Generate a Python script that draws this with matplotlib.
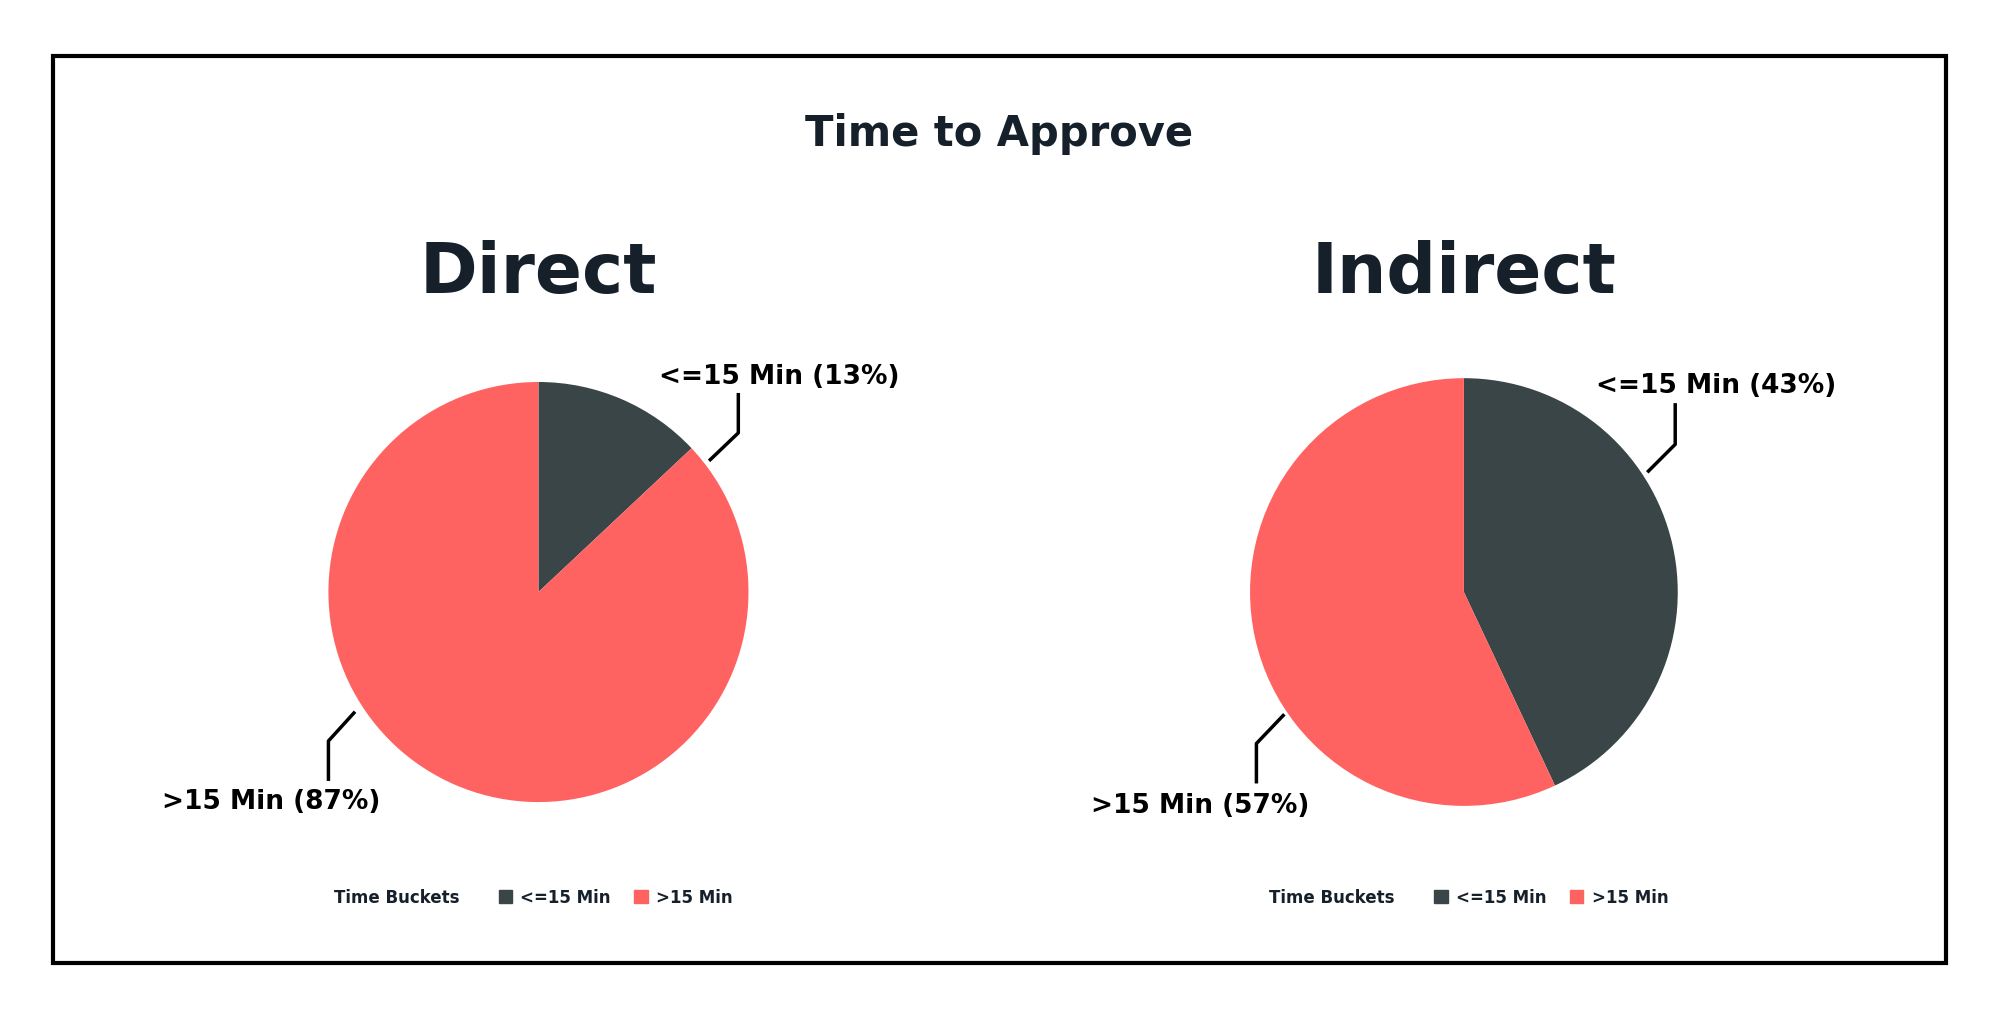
import matplotlib
matplotlib.use("Agg")
import matplotlib.pyplot as plt
from matplotlib.lines import Line2D
from matplotlib.patches import Rectangle, Patch

categories = ["<=15 Min", ">15 Min"]
direct_vals = [13, 87]
indirect_vals = [43, 57]
colors = ["#3A4547", "#FF6361"]

W, H = 1568.0, 798.0
def fx(x): return x / W
def fy(y): return 1 - y / H

fig = plt.figure(figsize=(19.96, 10.16), dpi=100)
fig.patches.append(Rectangle((fx(42), fy(756)), fx(1529) - fx(42), fy(44) - fy(756),
                             transform=fig.transFigure, fill=False, lw=3, ec="black"))
fig.text(fx(785), fy(105), "Time to Approve", ha="center", va="center",
         fontsize=30, fontweight="bold", color="#15202B")

panels = [
    ("Direct", direct_vals, 423, 465, 165,
     [(518, 296, [(558, 361), (580, 340), (580, 310)]),
      (127, 630, [(278, 560), (258, 582), (258, 612)])], 262),
    ("Indirect", indirect_vals, 1150, 465, 168,
     [(1254, 303, [(1295, 370), (1316, 349), (1316, 318)]),
      (857, 633, [(1008, 562), (987, 584), (987, 614)])], 997),
]

for name, vals, cx, cy, r, labs, lx in panels:
    fig.text(fx(cx), fy(215), name, ha="center", va="center",
             fontsize=50, fontweight="bold", color="#15202B")
    ax = fig.add_axes([fx(cx - r), fy(cy + r), fx(2 * r), fy(cy - r) - fy(cy + r)])
    ax.pie(vals, colors=colors, startangle=90, counterclock=False,
           wedgeprops=dict(linewidth=0))
    ax.set_aspect("equal")
    ax.set_xlim(-1, 1); ax.set_ylim(-1, 1)
    for (tx, ty, pts), cat, v in zip(labs, categories, vals):
        fig.text(fx(tx), fy(ty), f"{cat} ({v}%)", ha="left", va="center",
                 fontsize=19, fontweight="bold", color="black")
        fig.add_artist(Line2D([fx(p[0]) for p in pts], [fy(p[1]) for p in pts],
                              transform=fig.transFigure, color="black", lw=2.5))
    fig.text(fx(lx), fy(705), "Time Buckets", ha="left", va="center",
             fontsize=12, fontweight="bold", color="#15202B")
    handles = [Patch(color=c, label=l) for c, l in zip(colors, categories)]
    fig.legend(handles=handles, ncol=2, loc="center left",
               bbox_to_anchor=(fx(lx + 118), fy(705)), frameon=False,
               handlelength=0.8, handleheight=0.8, handletextpad=0.5,
               columnspacing=1.4, prop=dict(size=12, weight="bold"),
               labelcolor="#15202B")

fig.savefig("out.png", dpi=100)
